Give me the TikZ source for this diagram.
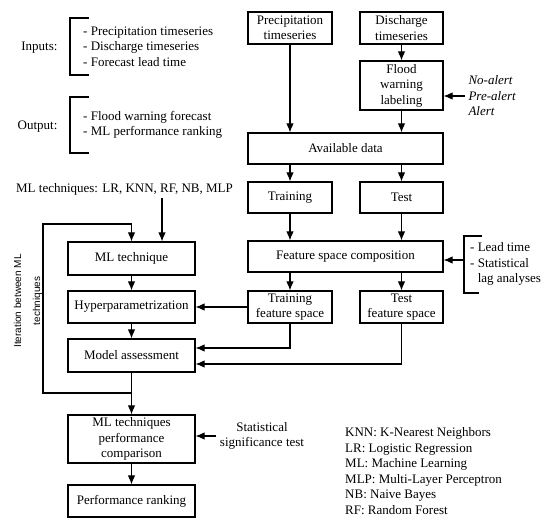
\documentclass[tikz,border=0pt]{standalone}
\usepackage{fontspec}
\setmainfont{Liberation Serif}
\setsansfont{Liberation Sans}
\usetikzlibrary{arrows.meta}

\newcommand{\flowfont}{\fontsize{13}{15.5}\selectfont}

\begin{document}
\begin{tikzpicture}[x=1pt, y=-1pt, font=\flowfont,
    box/.style={draw, line width=1.1pt, align=center, inner sep=1pt, minimum height=31pt},
    arr/.style={line width=1.1pt, -{Latex[length=9pt,width=7.5pt]}},
    brk/.style={line width=1.1pt}]
    \useasboundingbox (0,0) rectangle (550,524);

    % data preparation (right column)
    \node[box, minimum width=84pt, minimum height=32pt] (prec) at (290,28) {Precipitation\\timeseries};
    \node[box, minimum width=83pt, minimum height=32pt] (disc) at (401.5,28) {Discharge\\timeseries};
    \node[box, minimum width=83pt, minimum height=49pt] (flood) at (401.5,85.5) {Flood\\warning\\labeling};
    \node[box, minimum width=195pt] (avail) at (345.5,148.5) {Available data};
    \node[box, minimum width=84pt] (train) at (290,197.5) {Training};
    \node[box, minimum width=83pt] (test) at (401.5,197.5) {Test};
    \node[box, minimum width=195pt] (feat) at (345.5,256.5) {Feature space composition};
    \node[box, minimum width=84pt, minimum height=32pt] (trainfs) at (290,307) {Training\\feature space};
    \node[box, minimum width=83pt, minimum height=32pt] (testfs) at (401.5,307) {Test\\feature space};

    % modelling (left column)
    \node[box, minimum width=127pt, minimum height=33pt] (mltech) at (131.5,258.5) {ML technique};
    \node[box, minimum width=127pt, minimum height=32pt] (hyper) at (131.5,307) {Hyperparametrization};
    \node[box, minimum width=127pt, minimum height=33pt] (assess) at (131.5,355.5) {Model assessment};
    \node[box, minimum width=127pt, minimum height=48pt] (compar) at (131.5,439) {ML techniques\\performance\\comparison};
    \node[box, minimum width=127pt, minimum height=32pt] (rank) at (131.5,501) {Performance ranking};

    % free texts
    \node[anchor=east] (inlab) at (61,48) {Inputs:};
    \node[anchor=west, align=left, inner sep=2pt] (inlist) at (81,46.5) {- Precipitation timeseries\\- Discharge timeseries\\- Forecast lead time};
    \node[anchor=east] (outlab) at (61,127) {Output:};
    \node[anchor=west, align=left, inner sep=2pt] (outlist) at (81,125) {- Flood warning forecast\\- ML performance ranking};
    \node (mlt) at (124.5,189) {ML techniques: LR, KNN, RF, NB, MLP};
    \node[anchor=west, align=left, font=\flowfont\itshape] (alerts) at (465,96) {No-alert\\Pre-alert\\Alert};
    \node[anchor=west, align=left, inner sep=2pt] (lag) at (468,264) {- Lead time\\- Statistical\\\phantom{- }lag analyses};
    \node[align=center] (sig) at (262,436) {Statistical\\significance test};
    \node[anchor=west, align=left, inner sep=2pt] (abbr) at (343,471) {KNN: K-Nearest Neighbors\\LR: Logistic Regression\\ML: Machine Learning\\MLP: Multi-Layer Perceptron\\NB: Naive Bayes\\RF: Random Forest};
    \node[rotate=90, align=center, font=\sffamily\fontsize{10}{19}\selectfont] (iter) at (28,301) {Iteration between ML\\techniques};

    % brackets
    \draw[brk] (89,18) -- (70,18) -- (70,75) -- (89,75);
    \draw[brk] (89,97) -- (70,97) -- (70,153) -- (89,153);
    \draw[brk] (482,236) -- (464,236) -- (464,293) -- (479,293);

    % connectors
    \draw[arr] (prec.south) -- (prec.south |- avail.north);
    \draw[arr] (disc) -- (flood);
    \draw[arr] (flood.south) -- (flood.south |- avail.north);
    \draw[arr] (alerts.west) -- (alerts.west -| flood.east);
    \draw[arr] (train.north |- avail.south) -- (train);
    \draw[arr] (test.north |- avail.south) -- (test);
    \draw[arr] (train) -- (train.south |- feat.north);
    \draw[arr] (test) -- (test.south |- feat.north);
    \coordinate (lagin) at (464,260);
    \draw[arr] (lagin) -- (lagin -| feat.east);
    \draw[arr] (trainfs.north |- feat.south) -- (trainfs);
    \draw[arr] (testfs.north |- feat.south) -- (testfs);
    \draw[arr] (trainfs) -- (hyper);
    \draw[arr] (trainfs.south) |- ([yshift=7.5pt]assess.east);
    \draw[arr] (testfs.south) |- ([yshift=-8.5pt]assess.east);
    \coordinate (mltin) at ([xshift=30.5pt]mltech.north);
    \draw[arr] (mltin |- mlt.south) -- (mltin);
    \draw[arr] (mltech) -- (hyper);
    \draw[arr] (hyper) -- (assess);
    \draw[arr] (assess) -- (compar);
    \draw[arr] (compar) -- (rank);
    \coordinate (loopbot) at (43,393);
    \coordinate (looptop) at (43,224);
    \draw[arr] (assess.south |- loopbot) -- (loopbot) -- (looptop) -| (mltech.north);
    \draw[arr] (sig.west) -- (sig.west -| compar.east);
\end{tikzpicture}
\end{document}
